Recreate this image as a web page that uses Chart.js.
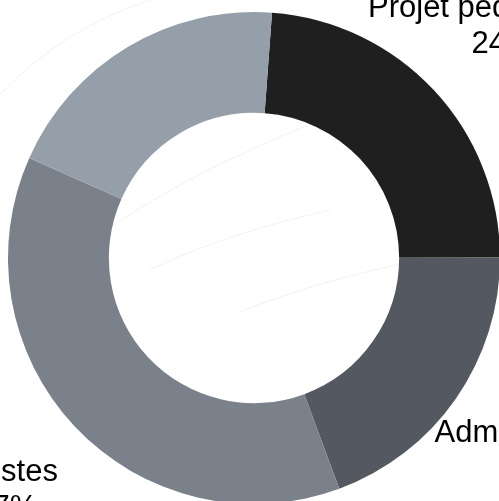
<!DOCTYPE html>
<html>
<head>
<meta charset="utf-8">
<script src="https://cdn.jsdelivr.net/npm/chart.js@4/dist/chart.umd.min.js"></script>
<style>
  html,body{margin:0;padding:0;background:#fff;overflow:hidden;width:499px;height:501px}
  #wrap{position:absolute;left:0;top:0}
</style>
</head>
<body>
<div id="wrap"><canvas id="chart" width="620" height="620"></canvas></div>
<script>
const labels = ['Projet pédagogique', 'Administration', 'Artistes', 'Communication'];
const values = [23.8, 19.4, 37.3, 19.5];
const colors = ['#1f1f1f', '#545961', '#7b818b', '#959fa9'];

const total = values.reduce((a,b)=>a+b,0);

// faint decorative swooshes behind the chart
const backdrop = {
  id:'backdrop',
  beforeDraw(chart){
    const ctx = chart.ctx;
    ctx.save();
    ctx.strokeStyle = 'rgba(0,0,0,0.06)';
    ctx.lineWidth = 1;
    [[0,95,60,30,150,0],[20,300,120,200,320,120],[150,270,220,235,330,210],[240,312,330,275,470,250]].forEach(c=>{
      ctx.beginPath(); ctx.moveTo(c[0],c[1]); ctx.quadraticCurveTo(c[2],c[3],c[4],c[5]); ctx.stroke();
    });
    ctx.restore();
  }
};

// labels drawn outside the ring, two lines: name and share
const outsideLabels = {
  id:'outsideLabels',
  afterDatasetsDraw(chart){
    const ctx = chart.ctx;
    const meta = chart.getDatasetMeta(0);
    ctx.save();
    ctx.font = '31px "Liberation Sans", Arial, sans-serif';
    ctx.fillStyle = '#000';
    ctx.textAlign = 'center';
    ctx.textBaseline = 'middle';
    meta.data.forEach((arc,i)=>{
      const mid = (arc.startAngle + arc.endAngle)/2;
      const r = arc.outerRadius*1.38;
      const x = arc.x + Math.cos(mid)*r, y = arc.y + Math.sin(mid)*r;
      ctx.fillText(labels[i], x, y-18);
      ctx.fillText(Math.round(values[i]/total*100)+'%', x, y+18);
    });
    ctx.restore();
  }
};

new Chart(document.getElementById('chart'), {
  type:'doughnut',
  data:{labels, datasets:[{data:values, backgroundColor:colors, borderWidth:0, hoverOffset:0}]},
  options:{
    responsive:false, animation:false, cutout:'59%', rotation:4.2,
    layout:{padding:{left:8, top:12, right:120, bottom:116}},
    plugins:{legend:{display:false}, tooltip:{enabled:false}}
  },
  plugins:[backdrop, outsideLabels]
});
</script>
</body>
</html>
